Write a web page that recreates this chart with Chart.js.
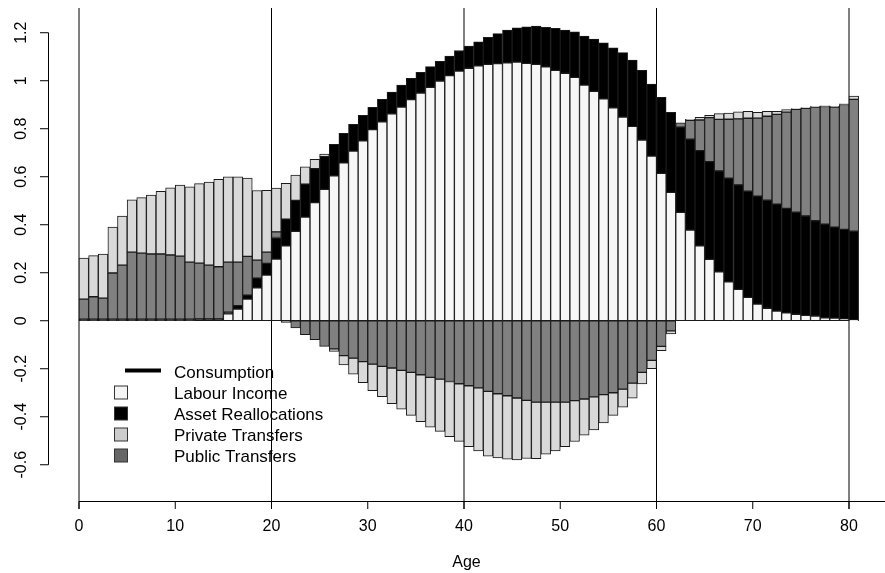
<!DOCTYPE html>
<html>
<head>
<meta charset="utf-8">
<script src="https://cdn.jsdelivr.net/npm/chart.js@4.4.1/dist/chart.umd.min.js"></script>
<style>
  html, body { margin: 0; padding: 0; background: #fff; }
  canvas { display: block; }
</style>
</head>
<body>
<canvas id="lifecycle" width="885" height="573"></canvas>
<script>
// ages 0..80, one bar per year of age
var ages = [0,1,2,3,4,5,6,7,8,9,10,11,12,13,14,15,16,17,18,19,20,
  21,22,23,24,25,26,27,28,29,30,31,32,33,34,35,36,37,38,39,40,
  41,42,43,44,45,46,47,48,49,50,51,52,53,54,55,56,57,58,59,60,
  61,62,63,64,65,66,67,68,69,70,71,72,73,74,75,76,77,78,79,80];

var labourIncome = [0,0,0,0,0,0,0,0,0,0,0,0,0,0,0,0.029,0.049,0.09,0.1375,0.19,0.257,
  0.3125,0.3725,0.432,0.492,0.5475,0.604,0.658,0.707,0.75,0.796,
  0.829,0.8625,0.89,0.921,0.949,0.9725,0.999,1.021,1.04,1.052,
  1.0625,1.068,1.071,1.075,1.078,1.0725,1.068,1.058,1.043,1.031,
  1.014,0.982,0.956,0.925,0.8875,0.849,0.81,0.753,0.686,0.614,
  0.535,0.4515,0.378,0.3125,0.256,0.204,0.1625,0.131,0.0975,0.069,
  0.052,0.04,0.033,0.027,0.0225,0.0196,0.0125,0.011,0.008,0.003];

var assetReallocations = [0.007,0.007,0.007,0.007,0.007,0.007,0.007,0.007,0.007,0.007,
  0.007,0.007,0.008,0.008,0.008,0.007,0.014,0.017,0.04,0.049,0.09,
  0.111,0.129,0.1375,0.142,0.136,0.131,0.1225,0.111,0.106,0.093,
  0.093,0.09,0.092,0.089,0.086,0.086,0.082,0.082,0.086,0.092,
  0.1,0.1125,0.125,0.136,0.142,0.1525,0.16,0.164,0.175,0.18,
  0.19,0.204,0.218,0.233,0.25,0.268,0.276,0.29,0.3,0.317,
  0.333,0.355,0.378,0.396,0.407,0.42,0.431,0.435,0.442,0.45,
  0.45,0.446,0.435,0.425,0.414,0.397,0.39,0.379,0.373,0.37];

var publicTransfers = [0.083,0.093,0.087,0.192,0.225,0.279,0.275,0.271,0.271,0.267,
  0.262,0.237,0.232,0.224,0.217,0.208,0.181,0.161,0.075,0.047,0.023,
  -0.007,-0.03,-0.058,-0.079,-0.107,-0.117,-0.145,-0.156,-0.17,-0.181,
  -0.19,-0.197,-0.207,-0.215,-0.225,-0.236,-0.243,-0.253,-0.2625,-0.271,
  -0.28,-0.294,-0.304,-0.3125,-0.322,-0.332,-0.339,-0.339,-0.339,-0.339,
  -0.333,-0.326,-0.317,-0.308,-0.3,-0.285,-0.26,-0.215,-0.165,-0.107,
  -0.042,0.018,0.079,0.128,0.183,0.215,0.246,0.275,0.304,0.325,
  0.35,0.374,0.401,0.429,0.449,0.474,0.49,0.5,0.52,0.549];

var privateTransfers = [0.171,0.171,0.184,0.191,0.204,0.218,0.231,0.246,0.261,0.28,
  0.296,0.314,0.331,0.346,0.364,0.356,0.356,0.326,0.29,0.257,0.183,
  0.149,0.105,0.072,0.039,0.011,-0.011,-0.039,-0.067,-0.0875,-0.11,
  -0.126,-0.149,-0.161,-0.179,-0.195,-0.207,-0.218,-0.23,-0.24,-0.254,
  -0.2625,-0.27,-0.268,-0.264,-0.258,-0.242,-0.236,-0.217,-0.2035,-0.186,
  -0.17,-0.151,-0.1375,-0.118,-0.094,-0.075,-0.0625,-0.048,-0.035,-0.018,
  -0.0125,0,0.004,0.011,0.01,0.024,0.026,0.029,0.029,0.024,
  0.021,0.0125,0.011,0.003,0.003,0.003,0.003,0.003,0.003,0.014];

var xTicks = [0,10,20,30,40,50,60,70,80];
var xGridLines = [0,20,40,60,80];
var yTicks = [-0.6,-0.4,-0.2,0,0.2,0.4,0.6,0.8,1,1.2];
var yTickLabels = ["-0.6","-0.4","-0.2","0","0.2","0.4","0.6","0.8","1","1.2"];

var FONT = "'Liberation Sans', Arial, Helvetica, sans-serif";

function series(values) {
  // bar for age a covers [a, a+1]
  return ages.map(function (a, i) { return { x: a + 0.5, y: values[i] }; });
}

// R-style axes, grid lines and legend drawn by hand
var baseAxes = {
  id: 'baseAxes',
  beforeDatasetsDraw: function (chart) {
    var c = chart.ctx, xs = chart.scales.x;
    c.save();
    c.strokeStyle = '#000';
    c.lineWidth = 1;
    xGridLines.forEach(function (v) {
      var px = xs.getPixelForValue(v);
      c.beginPath();
      c.moveTo(px, 8);
      c.lineTo(px, 509);
      c.stroke();
    });
    c.restore();
  },
  afterDraw: function (chart) {
    var c = chart.ctx, xs = chart.scales.x, ys = chart.scales.y;
    c.save();
    c.strokeStyle = '#000';
    c.fillStyle = '#000';
    c.lineWidth = 1;

    // y axis
    var ax = 48.5;
    c.beginPath();
    c.moveTo(ax, ys.getPixelForValue(yTicks[yTicks.length - 1]));
    c.lineTo(ax, ys.getPixelForValue(yTicks[0]));
    c.stroke();
    c.font = '16px ' + FONT;
    c.textAlign = 'center';
    c.textBaseline = 'middle';
    yTicks.forEach(function (v, i) {
      var py = ys.getPixelForValue(v);
      c.beginPath();
      c.moveTo(40, py);
      c.lineTo(ax, py);
      c.stroke();
      c.save();
      c.translate(22, py);
      c.rotate(-Math.PI / 2);
      c.fillText(yTickLabels[i], 0, 0);
      c.restore();
    });

    // x axis
    var ay = 501.5;
    c.beginPath();
    c.moveTo(xs.getPixelForValue(0), ay);
    c.lineTo(885, ay);
    c.stroke();
    xTicks.forEach(function (v) {
      var px = xs.getPixelForValue(v);
      c.beginPath();
      c.moveTo(px, ay);
      c.lineTo(px, 509);
      c.stroke();
      c.fillText(String(v), px, 527);
    });
    c.fillText('Age', 466.5, 563);

    // legend
    c.textAlign = 'left';
    c.font = '17px ' + FONT;
    c.lineWidth = 4;
    c.beginPath();
    c.moveTo(125, 370.5);
    c.lineTo(161, 370.5);
    c.stroke();
    c.fillText('Consumption', 174, 373);
    var items = [
      ['Labour Income', '#f5f5f5', 394],
      ['Asset Reallocations', '#000000', 415],
      ['Private Transfers', '#cccccc', 436],
      ['Public Transfers', '#666666', 457]
    ];
    c.lineWidth = 1;
    items.forEach(function (it) {
      var sy = it[2] - 1.5;
      c.fillStyle = it[1];
      c.fillRect(114.5, sy - 6.5, 13, 13);
      c.strokeStyle = '#333';
      c.strokeRect(114.5, sy - 6.5, 13, 13);
      c.fillStyle = '#000';
      c.fillText(it[0], 174, it[2]);
    });
    c.restore();
  }
};

var barDefaults = {
  borderColor: '#1a1a1a',
  borderWidth: 1,
  borderSkipped: false,
  barPercentage: 1,
  categoryPercentage: 1
};

var lifecycleChart = new Chart(document.getElementById('lifecycle').getContext('2d'), {
  type: 'bar',
  data: {
    datasets: [
      Object.assign({ label: 'Labour Income', data: series(labourIncome), backgroundColor: '#f7f7f7' }, barDefaults),
      Object.assign({ label: 'Asset Reallocations', data: series(assetReallocations), backgroundColor: '#000000' }, barDefaults),
      Object.assign({ label: 'Public Transfers', data: series(publicTransfers), backgroundColor: '#808080' }, barDefaults),
      Object.assign({ label: 'Private Transfers', data: series(privateTransfers), backgroundColor: '#d9d9d9' }, barDefaults)
    ]
  },
  options: {
    responsive: false,
    animation: false,
    layout: { padding: { left: 48, right: 0, top: 8, bottom: 72 } },
    plugins: {
      legend: { display: false },
      tooltip: { enabled: false }
    },
    scales: {
      x: {
        type: 'linear',
        stacked: true,
        display: false,
        offset: false,
        min: -3.221,
        max: 83.74,
        afterBuildTicks: function (s) { s.ticks = xGridLines.map(function (v) { return { value: v }; }); }
      },
      y: {
        stacked: true,
        display: false,
        min: -0.751,
        max: 1.303,
        afterBuildTicks: function (s) { s.ticks = yTicks.map(function (v) { return { value: v }; }); }
      }
    }
  },
  plugins: [baseAxes]
});
</script>
</body>
</html>
